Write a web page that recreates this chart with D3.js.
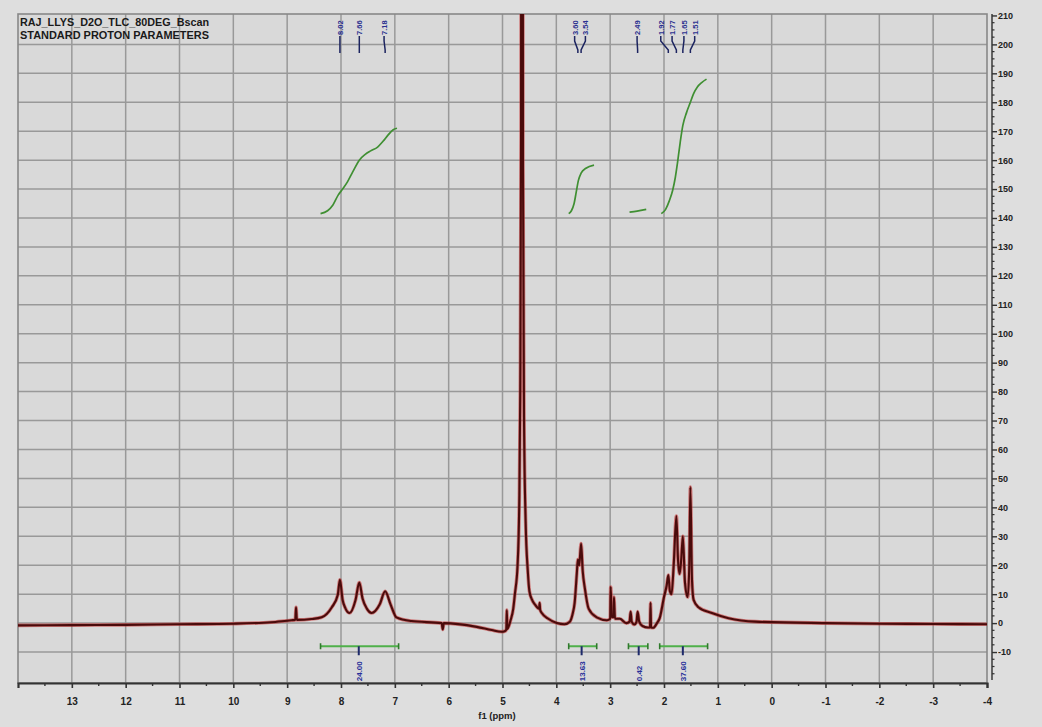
<!DOCTYPE html>
<html>
<head>
<meta charset="utf-8">
<script src="https://cdn.jsdelivr.net/npm/d3@7"></script>
<style>
  html, body { margin: 0; padding: 0; background: #dedede; }
  svg { display: block; }
  text { font-family: "Liberation Sans", Arial, sans-serif; }
</style>
</head>
<body>
<svg id="chart" width="1042" height="727"></svg>
<script>
// 1H NMR spectrum (f1, ppm) with integrals and peak picks
const titleLines = ["RAJ_LLYS_D2O_TLC_80DEG_Bscan", "STANDARD PROTON PARAMETERS"];
const xTicks = [13, 12, 11, 10, 9, 8, 7, 6, 5, 4, 3, 2, 1, 0, -1, -2, -3, -4];
const yTicks = [-10, 0, 10, 20, 30, 40, 50, 60, 70, 80, 90, 100, 110, 120, 130, 140, 150, 160, 170, 180, 190, 200, 210];

// spectrum trace: [ppm, intensity]
const spectrum = [
  [14, -0.8], [13, -0.7], [12, -0.6], [11, -0.4], [10, -0.2], [9.3, 0.3], [8.92, 1], [8.85, 1.1],
  [8.835, 5.5], [8.82, 1.1], [8.55, 1.4], [8.36, 2], [8.17, 5.5], [8.06, 9.7], [8.02, 15], [7.97, 8],
  [7.92, 5.2], [7.84, 3.5], [7.73, 8], [7.66, 14], [7.60, 8.5], [7.52, 5], [7.43, 3.5], [7.28, 6.5],
  [7.18, 11], [7.08, 6.5], [6.97, 2], [6.69, 0.7], [6.13, 0], [6.11, -2.2], [6.09, 0], [5.48, -1.3],
  [5.2, -2.4], [5.02, -3], [4.96, -2.8], [4.93, -2.3], [4.92, 4.5], [4.91, -2], [4.85, 1], [4.80, 5],
  [4.77, 10], [4.72, 20], [4.69, 40], [4.67, 80], [4.655, 170], [4.645, 700], [4.63, 700], [4.62, 160],
  [4.60, 70], [4.57, 35], [4.53, 18], [4.50, 11], [4.45, 8], [4.40, 6.5], [4.32, 5], [4.31, 7],
  [4.30, 4.5], [4.27, 3.5], [4.15, 1.5], [3.99, 0], [3.85, -0.4], [3.75, 0.5], [3.70, 3], [3.66, 7],
  [3.62, 17], [3.60, 22], [3.575, 20], [3.54, 27.5], [3.51, 18], [3.47, 12], [3.40, 5], [3.25, 2],
  [3.06, 1], [3.00, 1.5], [2.99, 12.5], [2.97, 2], [2.935, 2], [2.93, 9], [2.91, 1.5], [2.82, 1.5],
  [2.70, 0], [2.64, 0.5], [2.62, 4], [2.60, 0.5], [2.55, -0.5], [2.51, 0.5], [2.49, 4], [2.46, 0.5],
  [2.40, -1], [2.30, -1.5], [2.26, -1.5], [2.25, 7], [2.24, -1.5], [2.20, -1.6], [2.13, 0], [2.08, 1.7],
  [2.00, 9], [1.95, 13], [1.92, 16.6], [1.89, 11], [1.86, 10], [1.82, 20], [1.77, 37], [1.74, 22],
  [1.71, 17], [1.68, 22], [1.65, 30], [1.61, 14], [1.56, 9], [1.53, 20], [1.51, 47], [1.48, 15],
  [1.45, 8], [1.36, 5.5], [1.11, 3.5], [0.80, 1.7], [0.3, 0.5], [-1, 0], [-2, -0.2], [-3, -0.3], [-4, -0.4]
];

// cumulative integral curves: [ppm, level]
const integralCurves = [
  [[8.38, 141.5], [8.25, 142.5], [8.15, 144.5], [8.05, 148], [7.97, 150], [7.88, 152.5], [7.78, 156],
   [7.66, 160], [7.55, 162], [7.45, 163.2], [7.32, 164.5], [7.22, 166.5], [7.12, 168.8], [7.03, 170.5], [6.96, 171]],
  [[3.77, 141.5], [3.72, 142.5], [3.67, 145], [3.63, 149], [3.59, 153], [3.54, 155.5], [3.45, 157.2], [3.30, 158.3]],
  [[2.64, 142], [2.50, 142.4], [2.33, 143]],
  [[2.05, 141.5], [1.97, 143], [1.90, 146], [1.84, 149.5], [1.79, 154], [1.75, 159], [1.70, 166], [1.65, 172],
   [1.58, 176.5], [1.51, 180], [1.45, 183], [1.38, 185.3], [1.30, 186.8], [1.21, 188]]
];

// integral regions: from, to, label position, value
const integralFrom = [8.38, 3.77, 2.66, 2.08];
const integralTo = [6.93, 3.25, 2.30, 1.19];
const integralMid = [7.67, 3.53, 2.47, 1.65];
const integralValues = ["24.00", "13.63", "0.42", "37.60"];
const integralLevel = -8;

// peak picks: value and label anchor (ppm)
const peakValues = [8.02, 7.66, 7.18, 3.60, 3.54, 2.49, 1.92, 1.77, 1.65, 1.51];
const peakLabelPos = [8.02, 7.66, 7.20, 3.66, 3.46, 2.50, 2.06, 1.85, 1.63, 1.43];

const W = 1042, H = 727;
const plot = { left: 18, right: 987, top: 14, bottom: 683 };

const svg = d3.select("#chart");
const x = d3.scaleLinear().domain([14, -4]).range([plot.left, plot.right]);
const y = d3.scaleLinear().domain([-20.7, 210.5]).range([plot.bottom, plot.top]);

svg.append("rect").attr("width", W).attr("height", H).attr("fill", "#dedede");
svg.append("rect")
  .attr("x", plot.left).attr("y", plot.top)
  .attr("width", plot.right - plot.left).attr("height", plot.bottom - plot.top)
  .attr("fill", "#d9d9d9");

// grid
const grid = svg.append("g").attr("stroke", "#999").attr("stroke-width", 1.5);
grid.selectAll("line.v").data(xTicks.filter(d => d > -4))
  .join("line").attr("class", "v")
  .attr("x1", d => x(d)).attr("x2", d => x(d))
  .attr("y1", plot.top).attr("y2", plot.bottom);
grid.selectAll("line.h").data(yTicks.filter(d => d < 210))
  .join("line").attr("class", "h")
  .attr("x1", plot.left).attr("x2", plot.right)
  .attr("y1", d => y(d)).attr("y2", d => y(d));
svg.append("rect")
  .attr("x", plot.left).attr("y", plot.top)
  .attr("width", plot.right - plot.left).attr("height", plot.bottom - plot.top)
  .attr("fill", "none").attr("stroke", "#888").attr("stroke-width", 1.6);

// clip for data
svg.append("defs").append("clipPath").attr("id", "plotClip")
  .append("rect").attr("x", plot.left).attr("y", plot.top)
  .attr("width", plot.right - plot.left).attr("height", plot.bottom - plot.top);

const data = svg.append("g").attr("clip-path", "url(#plotClip)");

// integral curves
const integralLine = d3.line().x(d => x(d[0])).y(d => y(d[1])).curve(d3.curveMonotoneX);
data.selectAll("path.integral").data(integralCurves).join("path")
  .attr("class", "integral")
  .attr("d", integralLine)
  .attr("fill", "none").attr("stroke", "#3f8f32").attr("stroke-width", 1.7);

// spectrum
const specLine = d3.line().x(d => x(d[0])).y(d => y(d[1])).curve(d3.curveMonotoneX);
data.append("path").datum(spectrum).attr("d", specLine)
  .attr("fill", "none").attr("stroke", "#c42a2a").attr("stroke-opacity", 0.55)
  .attr("stroke-width", 3.6).attr("stroke-linejoin", "round");
data.append("path").datum(spectrum).attr("d", specLine)
  .attr("fill", "none").attr("stroke", "#4a0b0b").attr("stroke-width", 2.1)
  .attr("stroke-linejoin", "round");

// integral bars under the peaks
const bars = svg.append("g");
integralValues.forEach((v, i) => {
  const x1 = x(integralFrom[i]), x2 = x(integralTo[i]), xm = x(integralMid[i]), yb = y(integralLevel);
  bars.append("line").attr("x1", x1).attr("x2", x2).attr("y1", yb).attr("y2", yb)
    .attr("stroke", "#4fb04a").attr("stroke-width", 2);
  [x1, x2].forEach(xe => bars.append("line").attr("x1", xe).attr("x2", xe)
    .attr("y1", yb - 3).attr("y2", yb + 3).attr("stroke", "#2f7a2c").attr("stroke-width", 1.6));
  bars.append("line").attr("x1", xm).attr("x2", xm).attr("y1", yb).attr("y2", yb + 9)
    .attr("stroke", "#1e2a6a").attr("stroke-width", 2);
  bars.append("text")
    .attr("transform", `translate(${xm + 3},${yb + 35}) rotate(-90)`)
    .attr("font-size", 8).attr("font-weight", "bold").attr("fill", "#28309a")
    .text(v);
});

// peak pick labels at the top
const picks = svg.append("g");
peakValues.forEach((p, i) => {
  const lx = x(peakLabelPos[i]), px = x(p);
  picks.append("text")
    .attr("transform", `translate(${lx + 3},35) rotate(-90)`)
    .attr("font-size", 7.5).attr("font-weight", "bold").attr("fill", "#2a3090")
    .text(p.toFixed(2));
  picks.append("path")
    .attr("d", `M${lx},36 L${lx},41 L${px},50 L${px},53`)
    .attr("fill", "none").attr("stroke", "#1c2460").attr("stroke-width", 1.5);
});

// title block
svg.append("g").selectAll("text").data(titleLines).join("text")
  .attr("x", 20).attr("y", (d, i) => 26 + i * 13)
  .attr("font-size", 10).attr("font-weight", "bold").attr("fill", "#1a1a1a")
  .attr("textLength", 189).attr("lengthAdjust", "spacingAndGlyphs")
  .text(d => d);

// bottom axis
const xAxis = d3.axisBottom(x).tickValues(xTicks).tickSize(5).tickPadding(10)
  .tickFormat(d => d3.format("d")(d).replace("\u2212", "-"));
const gx = svg.append("g").attr("transform", `translate(0,${plot.bottom})`).call(xAxis);
gx.select(".domain").attr("stroke", "#333").attr("stroke-width", 2.2);
gx.selectAll(".tick line").attr("stroke", "#333").attr("stroke-width", 1.6);
gx.selectAll(".tick text").attr("font-size", 10).attr("font-weight", "bold").attr("fill", "#222");
const xMinor = d3.range(13.5, -4, -1);
svg.append("g").selectAll("line").data(xMinor).join("line")
  .attr("x1", d => x(d)).attr("x2", d => x(d))
  .attr("y1", plot.bottom).attr("y2", plot.bottom + 3)
  .attr("stroke", "#333").attr("stroke-width", 1.4);
svg.append("text").attr("x", 497).attr("y", 719).attr("text-anchor", "middle")
  .attr("font-size", 9.5).attr("font-weight", "bold").attr("fill", "#222")
  .text("f1 (ppm)");

// right axis
const axisX = 992;
const yAxis = d3.axisRight(y).tickValues(yTicks).tickSize(5).tickPadding(1)
  .tickFormat(d => d3.format("d")(d).replace("\u2212", "-"));
const gy = svg.append("g").attr("transform", `translate(${axisX},0)`).call(yAxis);
gy.select(".domain").attr("stroke", "#555").attr("stroke-width", 1.8)
  .attr("d", `M0,${plot.top}V${plot.bottom - 3}`);
gy.selectAll(".tick line").attr("stroke", "#333").attr("stroke-width", 1.4);
gy.selectAll(".tick text").attr("font-size", 9).attr("font-weight", "bold").attr("fill", "#222");
const yMinor = d3.range(-17.5, 210, 2.5).filter(v => v % 10 !== 0);
svg.append("g").selectAll("line").data(yMinor).join("line")
  .attr("x1", axisX).attr("x2", axisX + 2.5)
  .attr("y1", d => y(d)).attr("y2", d => y(d))
  .attr("stroke", "#333").attr("stroke-width", 1.2);
</script>
</body>
</html>
